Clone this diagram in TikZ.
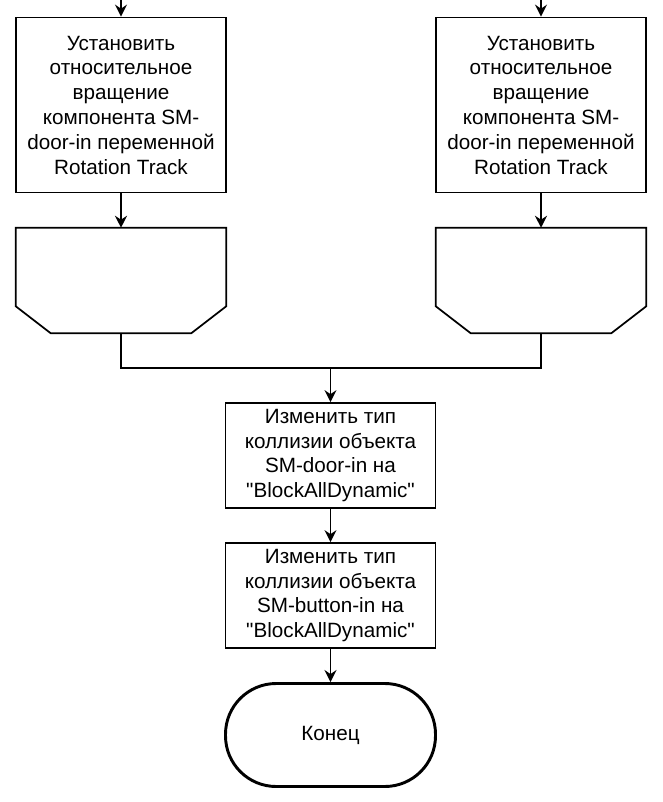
\documentclass[tikz,border=0pt]{standalone}
\usepackage{fontspec}
\setmainfont{Liberation Sans}
\usetikzlibrary{arrows.meta}

\tikzset{
  blk/.style={draw, line width=1.3pt, minimum width=157.5pt, align=center,
    inner sep=0pt, font=\fontsize{15.5}{18.6}\selectfont},
  loopend/.style={minimum width=157.5pt, minimum height=78.75pt, inner sep=0pt},
  term/.style={draw, line width=2.2pt, rounded corners=38pt, minimum width=157.5pt,
    minimum height=77.25pt, font=\fontsize{15.5}{18.6}\selectfont},
  arr/.style={line width=1.3pt, -{Stealth[length=9pt,width=9pt,inset=3pt]}}
}
\newcommand{\loopshape}[1]{%
  \draw[line width=1.3pt] (#1.north west) -- (#1.north east)
    -- ([yshift=-20.25pt]#1.south east) -- ([xshift=-26.25pt]#1.south east)
    -- ([xshift=26.25pt]#1.south west) -- ([yshift=-20.25pt]#1.south west) -- cycle;}

\begin{document}
\begin{tikzpicture}[x=0.75pt,y=0.75pt,yscale=-1]
\useasboundingbox (0,0) rectangle (662,802);

% top blocks
\node[blk, minimum height=131.25pt] (rot1) at (121,105) {Установить\\относительное\\вращение\\компонента SM-\\door-in переменной\\Rotation Track};
\node[blk, minimum height=131.25pt] (rot2) at (541,105) {Установить\\относительное\\вращение\\компонента SM-\\door-in переменной\\Rotation Track};
\coordinate (in1) at (121,0);
\coordinate (in2) at (541,0);

% loop ends
\node[loopend] (le1) at (121,280.5) {};
\node[loopend] (le2) at (541,280.5) {};
\loopshape{le1}
\loopshape{le2}
\coordinate (join) at (330.5,368);

% collision blocks
\node[blk, minimum height=78.75pt] (coldoor) at (330.5,455.5) {Изменить тип\\коллизии объекта\\SM-door-in на\\\textquotedbl BlockAllDynamic\textquotedbl};
\node[blk, minimum height=78.75pt] (colbtn) at (330.5,595.5) {Изменить тип\\коллизии объекта\\SM-button-in на\\\textquotedbl BlockAllDynamic\textquotedbl};

% end
\node[term] (fin) at (330.5,735) {Конец};

% connectors
\draw[arr] (in1) -- (rot1);
\draw[arr] (in2) -- (rot2);
\draw[arr] (rot1) -- (le1);
\draw[arr] (rot2) -- (le2);
\draw[line width=1.3pt] (le1.south) |- (join) -| (le2.south);
\draw[arr] (join) -- (coldoor);
\draw[arr] (coldoor) -- (colbtn);
\draw[arr] (colbtn) -- (fin);

\end{tikzpicture}
\end{document}
